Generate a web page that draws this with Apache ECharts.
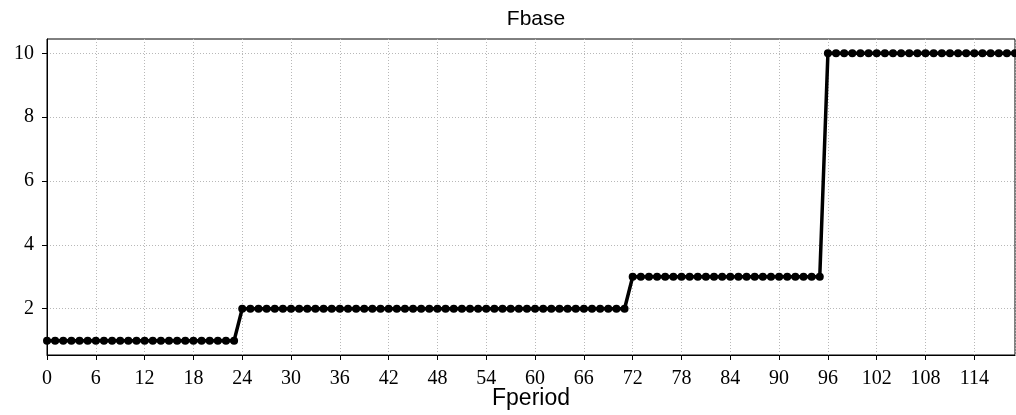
<!DOCTYPE html>
<html>
<head>
<meta charset="utf-8">
<script src="https://cdn.jsdelivr.net/npm/echarts@6/dist/echarts.min.js"></script>
<style>
  html, body { margin: 0; padding: 0; background: #fff; }
</style>
</head>
<body>
<div id="main" style="width:1016px; height:415px;"></div>
<script>
// Fbase per Fperiod (period index 0..119)
var fbase = [
  1, 1, 1, 1, 1, 1, 1, 1, 1, 1, 1, 1, 1, 1, 1, 1, 1, 1, 1, 1, 1, 1, 1, 1,
  2, 2, 2, 2, 2, 2, 2, 2, 2, 2, 2, 2, 2, 2, 2, 2, 2, 2, 2, 2, 2, 2, 2, 2,
  2, 2, 2, 2, 2, 2, 2, 2, 2, 2, 2, 2, 2, 2, 2, 2, 2, 2, 2, 2, 2, 2, 2, 2,
  3, 3, 3, 3, 3, 3, 3, 3, 3, 3, 3, 3, 3, 3, 3, 3, 3, 3, 3, 3, 3, 3, 3, 3,
  10, 10, 10, 10, 10, 10, 10, 10, 10, 10, 10, 10, 10, 10, 10, 10, 10, 10, 10, 10, 10, 10, 10, 10
];
var yTicks = [2, 4, 6, 8, 10];

var points = fbase.map(function (v, i) { return [i, v]; });

var serif = '"Liberation Serif", "DejaVu Serif", serif';
var sans = '"Liberation Sans", Arial, sans-serif';
var gridLine = { show: true, lineStyle: { color: '#b8b8b8', type: [1, 2], width: 1 } };

var chart = echarts.init(document.getElementById('main'));
var option = {
  animation: false,
  title: {
    text: 'Fbase',
    left: 531,
    textAlign: 'center',
    top: 4,
    textStyle: { fontFamily: sans, fontWeight: 'normal', fontSize: 21, color: '#000' }
  },
  grid: {
    left: 47, right: 1, top: 39, bottom: 60,
    outerBoundsMode: 'none',
    show: true, borderColor: '#000', borderWidth: 1
  },
  xAxis: {
    type: 'value',
    min: 0, max: 119, interval: 6,
    name: 'Fperiod',
    nameLocation: 'middle',
    nameGap: 32,
    nameMoveOverlap: false,
    nameTextStyle: { fontFamily: sans, fontSize: 23, color: '#000' },
    axisLine: { lineStyle: { color: '#000', width: 1 } },
    axisTick: { show: true, length: 5, lineStyle: { color: '#000' } },
    axisLabel: { fontFamily: serif, fontSize: 20, color: '#000', margin: 14, showMaxLabel: false },
    splitLine: gridLine
  },
  yAxis: {
    type: 'value',
    min: 0.55, max: 10.45,
    axisLine: { show: true, lineStyle: { color: '#000', width: 1 } },
    axisTick: { show: true, length: 5, lineStyle: { color: '#000' }, customValues: yTicks },
    axisLabel: { fontFamily: serif, fontSize: 20, color: '#000', margin: 13, customValues: yTicks },
    splitLine: gridLine
  },
  series: [{
    type: 'line',
    data: points,
    symbol: 'circle',
    symbolSize: 8,
    itemStyle: { color: '#000' },
    lineStyle: { color: '#000', width: 3.5 }
  }]
};
chart.setOption(option);
</script>
</body>
</html>
